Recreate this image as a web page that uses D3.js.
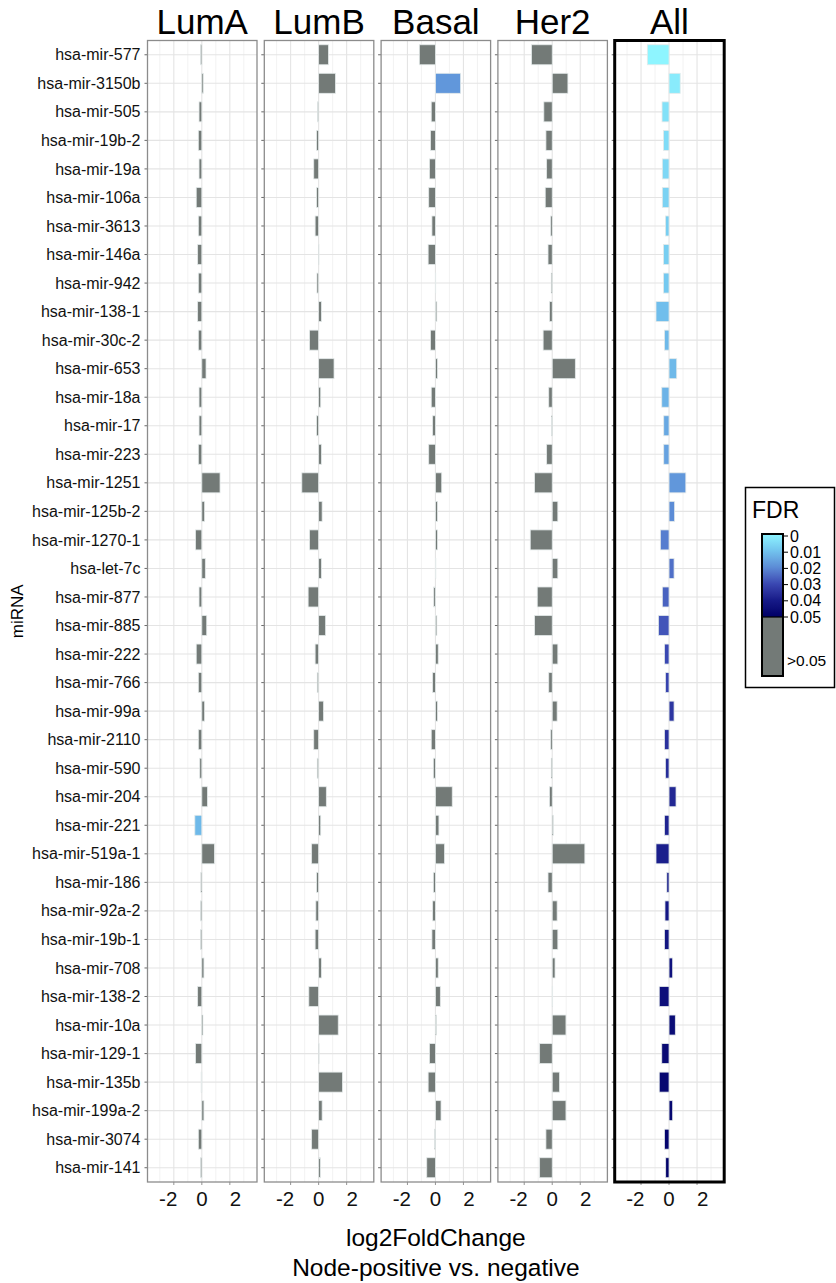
<!DOCTYPE html>
<html>
<head>
<meta charset="utf-8">
<script src="https://cdn.jsdelivr.net/npm/d3@7"></script>
<style>
  body { margin: 0; background: #fff; }
  svg { display: block; font-family: "Liberation Sans", Arial, sans-serif; }
</style>
</head>
<body>
<svg id="chart" width="836" height="1283"></svg>
<script>
const mirnas = [
  'hsa-mir-577', 'hsa-mir-3150b', 'hsa-mir-505', 'hsa-mir-19b-2', 'hsa-mir-19a',
  'hsa-mir-106a', 'hsa-mir-3613', 'hsa-mir-146a', 'hsa-mir-942', 'hsa-mir-138-1',
  'hsa-mir-30c-2', 'hsa-mir-653', 'hsa-mir-18a', 'hsa-mir-17', 'hsa-mir-223',
  'hsa-mir-1251', 'hsa-mir-125b-2', 'hsa-mir-1270-1', 'hsa-let-7c', 'hsa-mir-877',
  'hsa-mir-885', 'hsa-mir-222', 'hsa-mir-766', 'hsa-mir-99a', 'hsa-mir-2110',
  'hsa-mir-590', 'hsa-mir-204', 'hsa-mir-221', 'hsa-mir-519a-1', 'hsa-mir-186',
  'hsa-mir-92a-2', 'hsa-mir-19b-1', 'hsa-mir-708', 'hsa-mir-138-2', 'hsa-mir-10a',
  'hsa-mir-129-1', 'hsa-mir-135b', 'hsa-mir-199a-2', 'hsa-mir-3074', 'hsa-mir-141'
]

const panels = ['LumA', 'LumB', 'Basal', 'Her2', 'All']

// log2 fold change, same order as mirnas
const lumA = [
  -0.1, 0.1, -0.2, -0.25, -0.2, -0.4, -0.25, -0.3, -0.25, -0.3,
  -0.25, 0.3, -0.2, -0.2, -0.25, 1.3, 0.2, -0.45, 0.25, -0.2,
  0.35, -0.4, -0.25, 0.2, -0.25, -0.15, 0.4, -0.5, 0.9, -0.07,
  -0.1, -0.1, 0.15, -0.3, 0.08, -0.45, -0.05, 0.15, -0.25, -0.1
]
const lumB = [
  0.7, 1.2, -0.08, -0.15, -0.35, -0.15, -0.25, 0.02, -0.12, 0.2,
  -0.65, 1.1, 0.15, -0.15, 0.2, -1.2, 0.25, -0.65, 0.2, -0.75,
  0.5, -0.25, -0.1, 0.35, -0.35, -0.1, 0.55, 0.15, -0.5, -0.15,
  -0.2, -0.25, 0.2, -0.7, 1.4, 0.03, 1.7, 0.25, -0.5, 0.12
]
const basal = [
  -1.15, 1.8, -0.3, -0.35, -0.43, -0.48, -0.25, -0.52, 0.02, 0.1,
  -0.35, 0.15, -0.3, -0.2, -0.48, 0.45, 0.15, 0.15, 0.03, -0.12,
  0.1, 0.2, -0.2, 0.15, -0.3, -0.15, 1.2, 0.25, 0.65, -0.15,
  -0.2, -0.25, 0.2, 0.35, 0.08, -0.43, -0.52, 0.4, -0.06, -0.62
]
const her2 = [
  -1.48, 1.12, -0.6, -0.45, -0.4, -0.5, -0.12, -0.3, -0.07, -0.2,
  -0.65, 1.65, -0.25, -0.05, -0.4, -1.26, 0.4, -1.57, 0.4, -1.07,
  -1.26, 0.4, -0.25, 0.35, -0.12, -0.07, -0.2, 0.07, 2.33, -0.3,
  0.35, 0.4, 0.2, 0.03, 0.98, -0.9, 0.52, 0.98, -0.45, -0.9
]
const allFc = [
  -1.55, 0.8, -0.5, -0.4, -0.48, -0.48, -0.26, -0.4, -0.4, -0.93,
  -0.33, 0.55, -0.52, -0.38, -0.38, 1.2, 0.4, -0.62, 0.36, -0.48,
  -0.76, -0.33, -0.26, 0.36, -0.33, -0.26, 0.5, -0.33, -0.93, -0.16,
  -0.29, -0.33, 0.26, -0.7, 0.45, -0.52, -0.7, 0.26, -0.33, -0.24
]
// FDR of the pooled comparison
const allFdr = [
  0.0, 0.002, 0.004, 0.005, 0.006, 0.007, 0.008, 0.008, 0.009, 0.011,
  0.012, 0.012, 0.013, 0.015, 0.016, 0.018, 0.02, 0.022, 0.024, 0.026,
  0.028, 0.03, 0.031, 0.034, 0.035, 0.036, 0.037, 0.038, 0.039, 0.04,
  0.041, 0.042, 0.043, 0.044, 0.045, 0.046, 0.047, 0.047, 0.048, 0.049
]
// subtype results that pass FDR <= 0.05
const subtypeHits = [
  { panel: 'LumA', mirna: 'hsa-mir-221', fdr: 0.012 },
  { panel: 'Basal', mirna: 'hsa-mir-3150b', fdr: 0.018 }
]

const xTicks = [-2, 0, 2]
const xMinor = [-3, -1, 1, 3]
const legendTicks = [0, 0.01, 0.02, 0.03, 0.04, 0.05]
const fdrStops = [0, 0.01, 0.02, 0.03, 0.04, 0.05]
const fdrColors = ['#8ef5ff', '#72c4ee', '#5c8cd6', '#3a48b2', '#161a88', '#000066']
const grey = '#737a77'

const fcByPanel = { LumA: lumA, LumB: lumB, Basal: basal, Her2: her2, All: allFc }

const svg = d3.select('#chart')

const panelLeft = 147.5
const panelStep = 116.8
const panelW = 109.5
const plotTop = 40.5
const plotBottom = 1182

const y = d3.scaleBand().domain(mirnas).range([plotTop, plotBottom]).paddingInner(0).paddingOuter(0)
const x = d3.scaleLinear().domain([-3.88, 3.94]).range([0, panelW])
// the tick numbers in the figure were typed in a little wider than the grid
const xLabel = d3.scaleLinear().domain(x.domain().map(v => v / 1.2)).range(x.range())
const fdrColor = d3.scaleLinear().domain(fdrStops).range(fdrColors).interpolate(d3.interpolateLab).clamp(true)
const barH = 20

function fillFor(panel, i) {
  if (panel === 'All') return fdrColor(allFdr[i])
  const hit = subtypeHits.find(h => h.panel === panel && h.mirna === mirnas[i])
  return hit ? fdrColor(hit.fdr) : grey
}

panels.forEach((name, p) => {
  const g = svg.append('g').attr('transform', `translate(${panelLeft + p * panelStep},0)`)
  const vals = fcByPanel[name]

  // grid
  g.selectAll('line.minor').data(xMinor).join('line')
    .attr('class', 'minor')
    .attr('x1', d => x(d)).attr('x2', d => x(d))
    .attr('y1', plotTop).attr('y2', plotBottom)
    .attr('stroke', '#efefef').attr('stroke-width', 0.8)
  g.selectAll('line.hgrid').data(mirnas).join('line')
    .attr('class', 'hgrid')
    .attr('x1', 0).attr('x2', panelW)
    .attr('y1', d => y(d) + y.bandwidth() / 2).attr('y2', d => y(d) + y.bandwidth() / 2)
    .attr('stroke', '#e4e4e4').attr('stroke-width', 1.1)
  g.selectAll('line.vgrid').data(xTicks).join('line')
    .attr('class', 'vgrid')
    .attr('x1', d => x(d)).attr('x2', d => x(d))
    .attr('y1', plotTop).attr('y2', plotBottom)
    .attr('stroke', '#e4e4e4').attr('stroke-width', 1.1)

  // bars
  g.selectAll('rect.bar').data(vals).join('rect')
    .attr('class', 'bar')
    .attr('x', d => x(Math.min(0, d)))
    .attr('width', d => Math.abs(x(d) - x(0)))
    .attr('y', (d, i) => y(mirnas[i]) + (y.bandwidth() - barH) / 2)
    .attr('height', barH)
    .attr('fill', (d, i) => fillFor(name, i))
    .attr('stroke', '#e4eaea').attr('stroke-width', 0.8)

  // y ticks on each panel
  g.selectAll('line.ytick').data(mirnas).join('line')
    .attr('class', 'ytick')
    .attr('x1', -3).attr('x2', 0)
    .attr('y1', d => y(d) + y.bandwidth() / 2).attr('y2', d => y(d) + y.bandwidth() / 2)
    .attr('stroke', '#444').attr('stroke-width', 0.8)

  // x ticks + labels
  g.selectAll('line.xtick').data(xTicks).join('line')
    .attr('class', 'xtick')
    .attr('x1', d => x(d)).attr('x2', d => x(d))
    .attr('y1', plotBottom).attr('y2', plotBottom + 3)
    .attr('stroke', '#777').attr('stroke-width', 0.8)
  g.selectAll('text.xlab').data(xTicks).join('text')
    .attr('class', 'xlab')
    .attr('x', d => xLabel(d)).attr('y', 1206)
    .attr('text-anchor', 'middle').attr('font-size', 20.5).attr('fill', '#111')
    .text(d => d)

  // border
  const isAll = name === 'All'
  g.append('rect')
    .attr('x', 0).attr('y', plotTop).attr('width', panelW).attr('height', plotBottom - plotTop)
    .attr('fill', 'none')
    .attr('stroke', isAll ? '#000' : '#8c8c8c')
    .attr('stroke-width', isAll ? 3 : 1.3)

  // strip title
  g.append('text')
    .attr('x', panelW / 2).attr('y', 34)
    .attr('text-anchor', 'middle').attr('font-size', 35).attr('fill', '#000')
    .text(name)
})

// y labels
svg.append('g').selectAll('text').data(mirnas).join('text')
  .attr('x', 140.5).attr('y', d => y(d) + y.bandwidth() / 2)
  .attr('dy', '0.35em').attr('text-anchor', 'end')
  .attr('font-size', 16).attr('fill', '#111')
  .text(d => d)

svg.append('text')
  .attr('transform', `translate(23,${(plotTop + plotBottom) / 2}) rotate(-90)`)
  .attr('text-anchor', 'middle').attr('font-size', 17).attr('fill', '#000')
  .text('miRNA')

const midX = panelLeft + (panelStep * 4 + panelW) / 2
svg.append('text')
  .attr('x', midX).attr('y', 1246)
  .attr('text-anchor', 'middle').attr('font-size', 24.5).attr('fill', '#000')
  .text('log2FoldChange')
svg.append('text')
  .attr('x', midX).attr('y', 1276)
  .attr('text-anchor', 'middle').attr('font-size', 24.5).attr('fill', '#000')
  .text('Node-positive vs. negative')

// legend
const lg = svg.append('g')
lg.append('rect')
  .attr('x', 745.5).attr('y', 487.5).attr('width', 89).attr('height', 200)
  .attr('fill', '#fff').attr('stroke', '#000').attr('stroke-width', 1.5)
lg.append('text')
  .attr('x', 752).attr('y', 518).attr('font-size', 23).attr('fill', '#000')
  .text('FDR')

const ly = d3.scaleLinear().domain([0, 0.05]).range([536, 617])
const defs = svg.append('defs')
const grad = defs.append('linearGradient').attr('id', 'fdrGrad')
  .attr('x1', 0).attr('x2', 0).attr('y1', 0).attr('y2', 1)
grad.selectAll('stop').data(d3.range(0, 1.0001, 0.05)).join('stop')
  .attr('offset', d => d)
  .attr('stop-color', d => fdrColor(d * 0.05))

const barX = 762
const barW = 21
lg.append('rect')
  .attr('x', barX).attr('y', 534).attr('width', barW).attr('height', 617 - 534)
  .attr('fill', 'url(#fdrGrad)')
lg.append('rect')
  .attr('x', barX).attr('y', 617).attr('width', barW).attr('height', 676 - 617)
  .attr('fill', grey)
lg.append('line')
  .attr('x1', barX).attr('x2', barX + barW).attr('y1', 617).attr('y2', 617)
  .attr('stroke', '#000').attr('stroke-width', 1.2)
lg.append('rect')
  .attr('x', barX).attr('y', 534).attr('width', barW).attr('height', 676 - 534)
  .attr('fill', 'none').attr('stroke', '#000').attr('stroke-width', 2)

lg.selectAll('line.lt').data(legendTicks).join('line')
  .attr('class', 'lt')
  .attr('x1', barX + barW).attr('x2', barX + barW + 5)
  .attr('y1', d => ly(d)).attr('y2', d => ly(d))
  .attr('stroke', '#000').attr('stroke-width', 1)
lg.selectAll('text.ll').data(legendTicks).join('text')
  .attr('class', 'll')
  .attr('x', barX + barW + 7).attr('y', d => ly(d))
  .attr('dy', '0.35em').attr('font-size', 16).attr('fill', '#000')
  .text(d => d)
lg.append('text')
  .attr('x', 787).attr('y', 661).attr('dy', '0.35em')
  .attr('font-size', 15.5).attr('fill', '#000')
  .text('>0.05')
</script>
</body>
</html>
